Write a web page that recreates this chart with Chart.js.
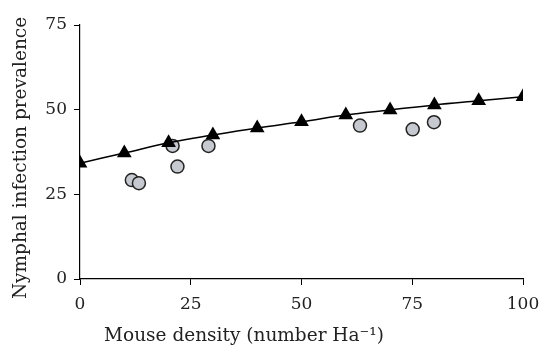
<!DOCTYPE html>
<html>
<head>
<meta charset="utf-8">
<script src="https://cdn.jsdelivr.net/npm/chart.js@4/dist/chart.umd.min.js"></script>
<style>
  html, body { margin: 0; padding: 0; background: #fff; }
  #wrap { width: 543px; height: 348px; }
</style>
</head>
<body>
<div id="wrap"><canvas id="chart" width="543" height="348"></canvas></div>
<script>
// Data
const modelDensity = [0, 10, 20, 30, 40, 50, 60, 70, 80, 90, 100];
const modelPrevalence = [34.2, 37.2, 40.2, 42.5, 44.6, 46.4, 48.4, 49.9, 51.4, 52.6, 53.8];
const fieldDensity = [11.7, 13.3, 20.9, 22, 29, 63.2, 75.1, 79.9];
const fieldPrevalence = [29.2, 28.3, 39.3, 33.2, 39.3, 45.3, 44.2, 46.3];
const xTicks = [0, 25, 50, 75, 100];
const yTicks = [0, 25, 50, 75];
const xTitle = 'Mouse density (number Ha\u207B\u00B9)';
const yTitle = 'Nymphal infection prevalence';

const toPoints = (xs, ys) => xs.map((x, i) => ({ x: x, y: ys[i] }));

const serif = "'DejaVu Serif', 'Liberation Serif', serif";

// axis titles sit a little off-centre in the original, so draw them here
const axisTitles = {
    id: 'axisTitles',
    afterDraw(chart) {
        const ctx = chart.ctx;
        ctx.save();
        ctx.fillStyle = '#222';
        ctx.font = "18.5px " + serif;
        ctx.textAlign = 'center';
        ctx.textBaseline = 'alphabetic';
        ctx.fillText(xTitle, 244, 341);
        ctx.translate(26, 158);
        ctx.rotate(-Math.PI / 2);
        ctx.fillText(yTitle, 0, 0);
        ctx.restore();
    }
};

new Chart(document.getElementById('chart'), {
    type: 'scatter',
    data: {
        datasets: [{
            label: 'Field',
            data: toPoints(fieldDensity, fieldPrevalence),
            pointStyle: 'circle',
            pointRadius: 6.5,
            backgroundColor: '#c6c9d0',
            borderColor: '#222',
            borderWidth: 1.5,
            order: 2
        }, {
            label: 'Model',
            data: toPoints(modelDensity, modelPrevalence),
            showLine: true,
            tension: 0.4,
            borderColor: '#000',
            borderWidth: 1.5,
            pointStyle: 'triangle',
            pointRadius: 8.5,
            pointBackgroundColor: '#000',
            pointBorderColor: '#000',
            pointBorderWidth: 0,
            order: 1
        }]
    },
    options: {
        responsive: false,
        animation: false,
        layout: { padding: { top: 25, right: 20, left: 0, bottom: 0 } },
        plugins: { legend: { display: false }, tooltip: { enabled: false } },
        scales: {
            x: {
                type: 'linear',
                min: 0,
                max: 100,
                afterBuildTicks: s => { s.ticks = xTicks.map(v => ({ value: v })); },
                afterFit: s => { s.height = 69; s.paddingRight = 20; },
                grid: { drawOnChartArea: false, drawTicks: true, tickLength: 6, color: '#000' },
                border: { display: true, color: '#000', width: 1.2 },
                ticks: { color: '#222', font: { family: serif, size: 17 }, padding: 9, maxRotation: 0 },
                title: { display: false }
            },
            y: {
                min: 0,
                max: 75,
                afterBuildTicks: s => { s.ticks = yTicks.map(v => ({ value: v })); },
                afterFit: s => { s.width = 80; },
                grid: { drawOnChartArea: false, drawTicks: true, tickLength: 6, color: '#000' },
                border: { display: true, color: '#000', width: 1.2 },
                ticks: { color: '#222', font: { family: serif, size: 17 }, padding: 7 },
                title: { display: false }
            }
        }
    },
    plugins: [axisTitles]
});
</script>
</body>
</html>
